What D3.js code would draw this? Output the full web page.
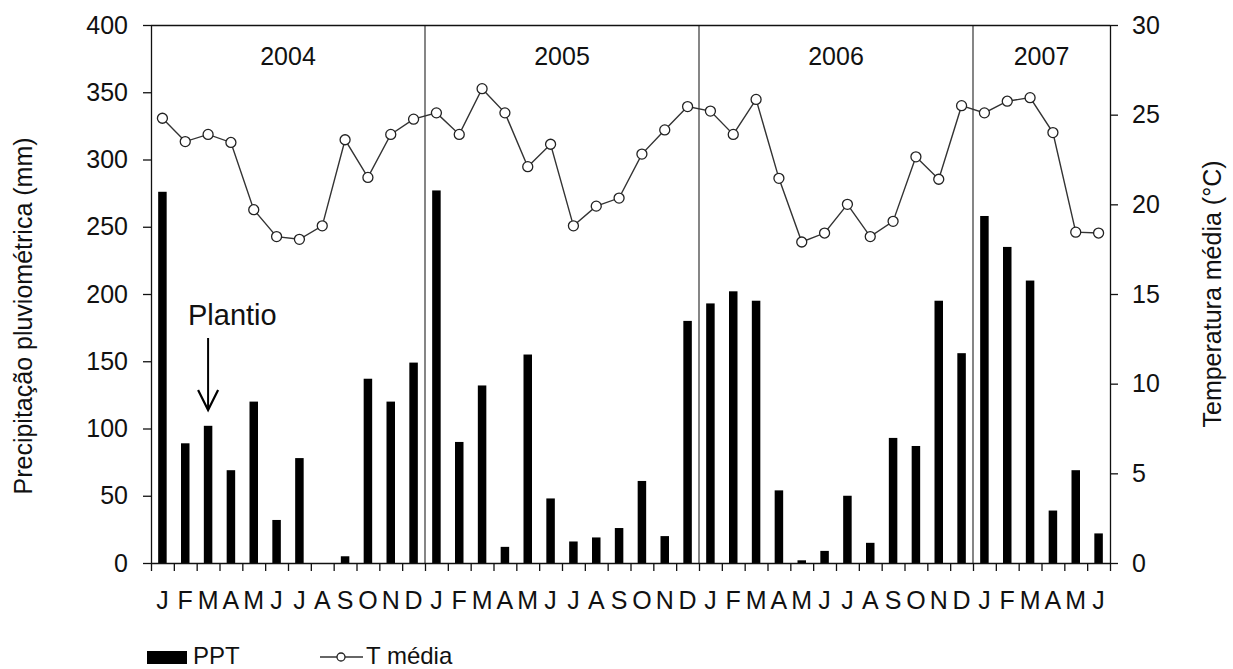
<!DOCTYPE html>
<html>
<head>
<meta charset="utf-8">
<script src="https://cdn.jsdelivr.net/npm/d3@7"></script>
<style>
  html, body { margin: 0; padding: 0; background: #fff; }
  svg { display: block; }
  text { font-family: "Liberation Sans", Arial, sans-serif; fill: #111; }
</style>
</head>
<body>
<svg id="chart" width="1233" height="669"></svg>
<script>
// ---- data ----
const monthLetters = ["J","F","M","A","M","J","J","A","S","O","N","D"];
const years = ["2004","2005","2006","2007"];
const monthsPerYear = [12, 12, 12, 6];
const ppt2004 = [276, 89, 102, 69, 120, 32, 78, 0, 5, 137, 120, 149];
const ppt2005 = [277, 90, 132, 12, 155, 48, 16, 19, 26, 61, 20, 180];
const ppt2006 = [193, 202, 195, 54, 2, 9, 50, 15, 93, 87, 195, 156];
const ppt2007 = [258, 235, 210, 39, 69, 22];
const temp2004 = [24.8, 23.5, 23.9, 23.45, 19.7, 18.2, 18.05, 18.8, 23.6, 21.5, 23.9, 24.75];
const temp2005 = [25.1, 23.9, 26.45, 25.1, 22.1, 23.35, 18.8, 19.9, 20.35, 22.8, 24.15, 25.45];
const temp2006 = [25.2, 23.9, 25.85, 21.45, 17.9, 18.4, 20.0, 18.2, 19.05, 22.65, 21.4, 25.5];
const temp2007 = [25.1, 25.75, 25.95, 24.0, 18.45, 18.4];
const leftTicks = [0, 50, 100, 150, 200, 250, 300, 350, 400];
const rightTicks = [0, 5, 10, 15, 20, 25, 30];

const ppt = [].concat(ppt2004, ppt2005, ppt2006, ppt2007);
const temp = [].concat(temp2004, temp2005, temp2006, temp2007);
const nMonths = ppt.length;
const labels = [];
monthsPerYear.forEach(n => { for (let i = 0; i < n; i++) labels.push(monthLetters[i]); });

// ---- layout ----
const L = 151, R = 1110, T = 25, B = 563;
const svg = d3.select("#chart");

const x = d3.scaleLinear().domain([0, nMonths]).range([L, R]);
const xBand = d3.scaleBand().domain(d3.range(nMonths)).range([L, R]);
const yL = d3.scaleLinear().domain([0, 400]).range([B, T]);
const yR = d3.scaleLinear().domain([0, 30]).range([B, T]);

// bars
const barW = 8.5;
svg.append("g").selectAll("rect").data(ppt).join("rect")
  .attr("x", (d, i) => x(i + 0.5) - barW / 2)
  .attr("y", d => yL(d))
  .attr("width", barW)
  .attr("height", d => B - yL(d))
  .attr("fill", "#000");

// year dividers
let cum = 0;
const boundaries = [];
monthsPerYear.forEach(n => { cum += n; boundaries.push(cum); });
svg.append("g").selectAll("line").data(boundaries.slice(0, -1)).join("line")
  .attr("x1", d => x(d)).attr("x2", d => x(d))
  .attr("y1", T).attr("y2", B)
  .attr("stroke", "#444").attr("stroke-width", 1.3);

// top frame
svg.append("line").attr("x1", L).attr("x2", R).attr("y1", T + 0.5).attr("y2", T + 0.5)
  .attr("stroke", "#111").attr("stroke-width", 1.3);

// year labels
let start = 0;
const yearPos = monthsPerYear.map(n => { const c = start + n / 2; start += n; return c; });
svg.append("g").selectAll("text").data(years).join("text")
  .attr("x", (d, i) => x(yearPos[i]))
  .attr("y", 65)
  .attr("text-anchor", "middle")
  .style("font-size", "25px")
  .text(d => d);

// temperature line
const line = d3.line().x((d, i) => x(i + 0.5)).y(d => yR(d));
svg.append("path").datum(temp)
  .attr("d", line).attr("fill", "none")
  .attr("stroke", "#333").attr("stroke-width", 1.4);
svg.append("g").selectAll("circle").data(temp).join("circle")
  .attr("cx", (d, i) => x(i + 0.5)).attr("cy", d => yR(d))
  .attr("r", 5).attr("fill", "#fff").attr("stroke", "#222").attr("stroke-width", 1.3);

// axes
function styleAxis(g) {
  g.selectAll("path.domain").attr("stroke", "#111").attr("stroke-width", 1.3);
  g.selectAll(".tick line").attr("stroke", "#111").attr("stroke-width", 1.3);
  g.selectAll("text").style("font-size", "25px").style("font-family", "'Liberation Sans', Arial, sans-serif").attr("fill", "#111");
}
svg.append("g").attr("transform", `translate(${L},0)`)
  .call(d3.axisLeft(yL).tickValues(leftTicks).tickSize(8).tickSizeOuter(0).tickPadding(15))
  .call(styleAxis);
svg.append("g").attr("transform", `translate(${R},0)`)
  .call(d3.axisRight(yR).tickValues(rightTicks).tickSize(8).tickSizeOuter(0).tickPadding(14))
  .call(styleAxis);
svg.append("g").attr("transform", `translate(0,${B})`)
  .call(d3.axisBottom(x).tickValues(d3.range(nMonths + 1)).tickSize(8).tickSizeOuter(0).tickFormat(""))
  .call(styleAxis);
svg.append("g").attr("transform", `translate(0,${B})`)
  .call(d3.axisBottom(xBand).tickSize(0).tickPadding(28).tickFormat(i => labels[i]))
  .call(g => g.select("path.domain").remove())
  .call(styleAxis);

// axis titles
svg.append("text")
  .attr("transform", `translate(32,${(T + B) / 2 + 22}) rotate(-90)`)
  .attr("text-anchor", "middle")
  .style("font-size", "25px")
  .text("Precipitação pluviométrica (mm)");
svg.append("text")
  .attr("transform", `translate(1221,${(T + B) / 2}) rotate(-90)`)
  .attr("text-anchor", "middle")
  .style("font-size", "25px")
  .text("Temperatura média (°C)");

// Plantio annotation
const plantX = x(2.5);
svg.append("text").attr("x", 188).attr("y", 325)
  .style("font-size", "29px").text("Plantio");
svg.append("line").attr("x1", plantX).attr("x2", plantX).attr("y1", 338).attr("y2", 409)
  .attr("stroke", "#000").attr("stroke-width", 2);
svg.append("path")
  .attr("d", `M${plantX - 10},${390} L${plantX},${410} L${plantX + 10},${390}`)
  .attr("fill", "none").attr("stroke", "#000").attr("stroke-width", 2.2);

// legend
svg.append("rect").attr("x", 147).attr("y", 651).attr("width", 40).attr("height", 13).attr("fill", "#000");
svg.append("text").attr("x", 193).attr("y", 664).style("font-size", "24px").text("PPT");
svg.append("line").attr("x1", 320).attr("x2", 363).attr("y1", 657).attr("y2", 657)
  .attr("stroke", "#333").attr("stroke-width", 1.4);
svg.append("circle").attr("cx", 341).attr("cy", 657).attr("r", 4)
  .attr("fill", "#fff").attr("stroke", "#222").attr("stroke-width", 1.3);
svg.append("text").attr("x", 366).attr("y", 664).style("font-size", "24px").text("T média");
</script>
</body>
</html>
